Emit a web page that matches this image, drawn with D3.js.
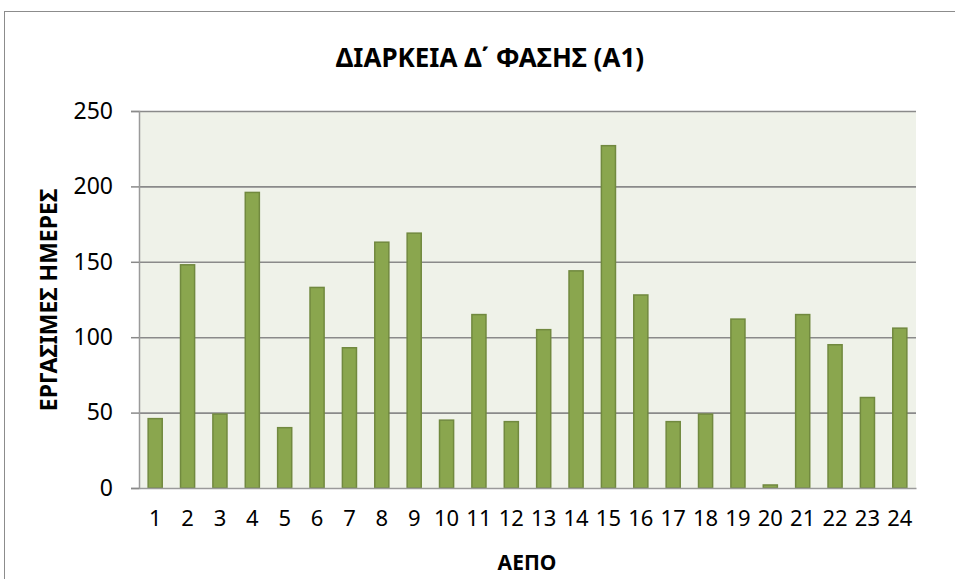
<!DOCTYPE html>
<html>
<head>
<meta charset="utf-8">
<script src="https://cdn.jsdelivr.net/npm/d3@7"></script>
<style>
  body { margin: 0; background: #fff; }
  text { font-family: "Noto Sans", sans-serif; fill: #000; }
</style>
</head>
<body>
<div id="chart"></div>
<script>
// data
var categories = ["1","2","3","4","5","6","7","8","9","10","11","12",
                  "13","14","15","16","17","18","19","20","21","22","23","24"];
var days = [46, 148, 49, 196, 40, 133, 93, 163, 169, 45, 115, 44,
            105, 144, 227, 128, 44, 49, 112, 2, 115, 95, 60, 106];
var yTicks = [0, 50, 100, 150, 200, 250];

var W = 955, H = 579;
var margin = {top: 111, right: 39, bottom: 91, left: 139},
    width = W - margin.left - margin.right,
    height = H - margin.top - margin.bottom;

var svg = d3.select("#chart")
  .append("svg")
    .attr("width", W)
    .attr("height", H);

// outer chart border
svg.append("rect")
  .attr("x", 4.5).attr("y", 11.5)
  .attr("width", 1000).attr("height", 1000)
  .attr("fill", "none")
  .attr("stroke", "#8c8c8c");

// title
svg.append("text")
  .attr("x", 490).attr("y", 67)
  .attr("text-anchor", "middle")
  .style("font-size", "26px")
  .style("font-weight", "bold")
  .text("ΔΙΑΡΚΕΙΑ Δ΄ ΦΑΣΗΣ (Α1)");

var g = svg.append("g")
  .attr("transform", "translate(" + margin.left + "," + margin.top + ")");

// plot area
g.append("rect")
  .attr("width", width).attr("height", height)
  .attr("fill", "#eff2e9");

var x = d3.scaleBand()
  .domain(categories)
  .range([0, width])
  .paddingInner(0.565)
  .paddingOuter(0.2825);

var y = d3.scaleLinear()
  .domain([0, 250])
  .range([height, 0]);

// gridlines
g.selectAll(".grid")
  .data(yTicks.filter(function(d) { return d > 0; }))
  .enter().append("line")
    .attr("x1", 0).attr("x2", width)
    .attr("y1", function(d) { return y(d) + 0.5; })
    .attr("y2", function(d) { return y(d) + 0.5; })
    .attr("stroke", "#8a8a8a")
    .attr("stroke-width", 1.6);

// y axis
var yAxis = g.append("g")
  .call(d3.axisLeft(y).tickValues(yTicks).tickSize(8).tickPadding(18));
yAxis.select(".domain").attr("stroke", "#9a9a9a").attr("stroke-width", 1.5);
yAxis.selectAll(".tick line").attr("stroke", "#8a8a8a").attr("stroke-width", 1.5);
yAxis.selectAll(".tick text")
  .style("font-size", "23px")
  .style("font-family", "'Noto Sans', sans-serif");

// bars
g.selectAll(".bar")
  .data(days)
  .enter().append("rect")
    .attr("x", function(d, i) { return x(categories[i]); })
    .attr("y", function(d) { return y(d); })
    .attr("width", x.bandwidth())
    .attr("height", function(d) { return height - y(d); })
    .attr("fill", "#8aa64e")
    .attr("stroke", "#71893f")
    .attr("stroke-width", 1.5);

// x axis
var xAxis = g.append("g")
  .attr("transform", "translate(0," + height + ")")
  .call(d3.axisBottom(x).tickSize(0).tickPadding(22));
xAxis.select(".domain").attr("stroke", "#9a9a9a").attr("stroke-width", 1.5);
xAxis.selectAll(".tick text")
  .style("font-size", "22px")
  .style("font-family", "'Noto Sans', sans-serif");

// axis titles
svg.append("text")
  .attr("x", 527).attr("y", 570)
  .attr("text-anchor", "middle")
  .style("font-size", "21px")
  .style("font-weight", "bold")
  .text("ΑΕΠΟ");

svg.append("text")
  .attr("transform", "translate(57,300) rotate(-90)")
  .attr("text-anchor", "middle")
  .style("font-size", "23px")
  .style("font-weight", "bold")
  .text("ΕΡΓΑΣΙΜΕΣ ΗΜΕΡΕΣ");
</script>
</body>
</html>
